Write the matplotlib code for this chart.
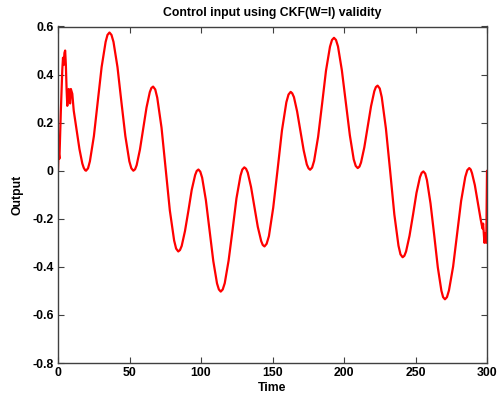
import matplotlib
matplotlib.use("Agg")
import matplotlib.pyplot as plt

# Control signal samples (time, output)
time = [
    0, 0.4, 1, 2, 3, 3.5, 4, 4.5, 5, 5.5, 6, 6.5, 7, 7.5, 8, 8.5, 9, 10, 11, 12,
    13, 14, 15, 16, 17, 18, 19, 19.6,
    21.0, 22.3, 25.1, 27.8, 30.5, 33.3, 34.6, 36.0,
    37.4, 38.8, 41.6, 44.3, 47.1, 49.9, 51.3, 52.7,
    53.9, 55.0, 57.3, 59.6, 61.9, 64.2, 65.3, 66.5,
    68.0, 69.4, 72.4, 75.3, 78.2, 81.2, 82.6, 84.1,
    85.3, 86.5, 88.8, 91.2, 93.5, 95.9, 97.0, 98.2,
    99.5, 100.8, 103.4, 106.0, 108.6, 111.2, 112.5, 113.8,
    115.2, 116.6, 119.3, 122.1, 124.8, 127.6, 128.9, 130.3,
    131.5, 132.7, 135.0, 137.4, 139.7, 142.1, 143.2, 144.4,
    145.9, 147.5, 150.5, 153.6, 156.6, 159.7, 161.2, 162.7,
    163.8, 165.0, 167.2, 169.5, 171.8, 174.0, 175.2, 176.3,
    177.7, 179.1, 181.9, 184.7, 187.4, 190.2, 191.6, 193.0,
    194.4, 195.8, 198.5, 201.3, 204.1, 206.8, 208.2, 209.6,
    210.8, 211.9, 214.2, 216.6, 218.9, 221.2, 222.3, 223.5,
    225.0, 226.4, 229.3, 232.3, 235.2, 238.1, 239.5, 241.0,
    242.2, 243.4, 245.8, 248.3, 250.7, 253.1, 254.3, 255.5,
    256.8, 258.0, 260.5, 263.1, 265.6, 268.1, 269.3, 270.6,
    272.0, 273.4, 276.3, 279.1, 281.9, 284.8, 286.2, 287.6,
    288.6, 289.5, 291.5, 293.5, 295.5, 296.8, 297.3, 298.2, 299.0, 299.5, 300.0,
]
output = [
    0.0, 0.08, 0.05, 0.25, 0.42, 0.47, 0.44, 0.49, 0.50, 0.44, 0.34, 0.27, 0.31, 0.34, 0.29, 0.28, 0.34, 0.32, 0.25, 0.21,
    0.17, 0.13, 0.09, 0.06, 0.03, 0.012, 0.002, 0.0,
    0.010, 0.039, 0.144, 0.288, 0.431, 0.536, 0.565, 0.575,
    0.565, 0.536, 0.431, 0.288, 0.144, 0.039, 0.010, 0.0,
    0.006, 0.023, 0.088, 0.175, 0.263, 0.327, 0.344, 0.35,
    0.338, 0.304, 0.179, 0.007, -0.165, -0.290, -0.324, -0.336,
    -0.330, -0.313, -0.251, -0.166, -0.080, -0.018, -0.001, 0.005,
    -0.004, -0.029, -0.122, -0.249, -0.376, -0.469, -0.494, -0.503,
    -0.494, -0.468, -0.374, -0.245, -0.115, -0.021, 0.005, 0.014,
    0.008, -0.008, -0.068, -0.151, -0.233, -0.293, -0.309, -0.315,
    -0.304, -0.272, -0.154, 0.007, 0.167, 0.285, 0.317, 0.328,
    0.322, 0.306, 0.247, 0.166, 0.085, 0.026, 0.010, 0.004,
    0.013, 0.041, 0.141, 0.279, 0.416, 0.516, 0.544, 0.553,
    0.544, 0.517, 0.418, 0.282, 0.147, 0.047, 0.020, 0.011,
    0.017, 0.034, 0.097, 0.183, 0.268, 0.331, 0.348, 0.354,
    0.342, 0.306, 0.176, -0.003, -0.182, -0.312, -0.348, -0.36,
    -0.354, -0.336, -0.271, -0.182, -0.092, -0.027, -0.009, -0.003,
    -0.012, -0.039, -0.136, -0.269, -0.402, -0.499, -0.526, -0.535,
    -0.526, -0.498, -0.399, -0.262, -0.126, -0.026, 0.002, 0.011,
    0.005, -0.01, -0.06, -0.13, -0.20, -0.24, -0.22, -0.30, -0.26, -0.30, 0.0,
]

x_ticks = [0, 50, 100, 150, 200, 250, 300]
y_ticks = [-0.8, -0.6, -0.4, -0.2, 0, 0.2, 0.4, 0.6]
y_tick_labels = ["-0.8", "-0.6", "-0.4", "-0.2", "0", "0.2", "0.4", "0.6"]

plt.rcParams["font.family"] = ["Liberation Sans", "DejaVu Sans"]
plt.rcParams["font.weight"] = "bold"

fig = plt.figure(figsize=(5.03, 4.04), dpi=100)
ax = fig.add_axes([58 / 503, 41 / 404, 429 / 503, 336.5 / 404])

ax.plot(time, output, color="#ff0000", linewidth=1.6,
        solid_joinstyle="round", solid_capstyle="round")

ax.set_xlim(0, 300)
ax.set_ylim(-0.8, 0.6)
ax.set_xticks(x_ticks)
ax.set_yticks(y_ticks)
ax.set_yticklabels(y_tick_labels)

for side in ["left", "right", "top", "bottom"]:
    ax.spines[side].set_color("#404040")
    ax.spines[side].set_linewidth(1.0)

ax.tick_params(direction="in", length=4, width=0.8, colors="#404040",
               top=True, right=True, labelsize=8.8, labelcolor="black", pad=3)
for lbl in ax.get_xticklabels() + ax.get_yticklabels():
    lbl.set_fontweight("bold")

ax.set_xlabel("Time", fontsize=8.8, fontweight="bold", labelpad=2)
ax.set_ylabel("Output", fontsize=8.8, fontweight="bold", labelpad=6)
ax.set_title("Control input using CKF(W=I) validity", fontsize=8.8,
             fontweight="bold", pad=7.5)

fig.savefig("out.png", dpi=100)
